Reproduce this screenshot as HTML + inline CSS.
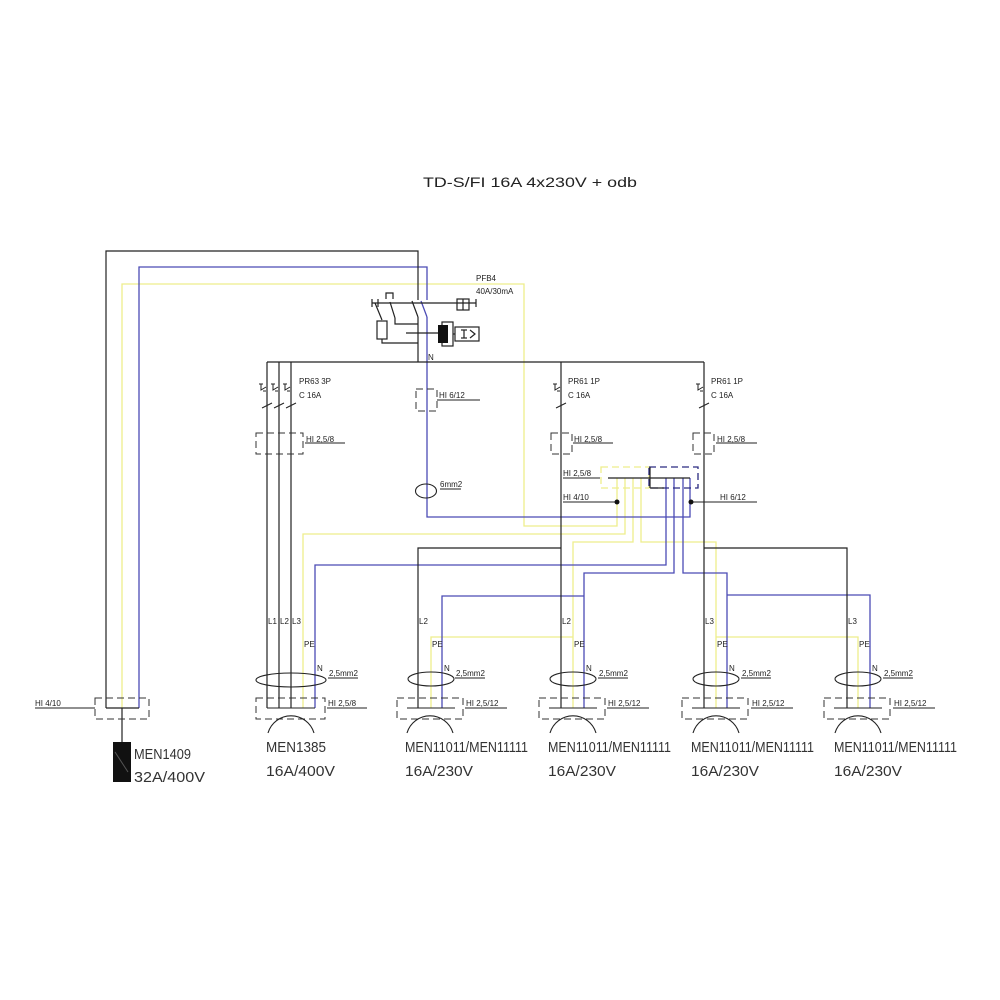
<!DOCTYPE html>
<html><head><meta charset="utf-8"><style>
html,body{margin:0;padding:0;background:#fff;}
svg{display:block;}
text{font-family:"Liberation Sans",sans-serif;fill:#222;}
.s{font-size:8px;}
.b{font-size:14.5px;fill:#333;}
</style></head><body>
<svg width="1000" height="1000" viewBox="0 0 1000 1000" xmlns="http://www.w3.org/2000/svg">
<rect width="1000" height="1000" fill="#fff"/>
<text x="423" y="187" font-size="14" textLength="214" lengthAdjust="spacingAndGlyphs" style="fill:#222">TD-S/FI 16A 4x230V + odb</text>

<g fill="none" stroke-width="1.3">
<!-- yellow PE lines -->
<g stroke="#eeee8c">
<polyline points="122,708 122,284 524,284 524,526 617,526 617,478"/>
<polyline points="625,478 625,534 303,534 303,708"/>
<polyline points="633,478 633,542 573,542 573,708"/>
<polyline points="573,637 431,637 431,708"/>
<polyline points="641,478 641,542 716,542 716,708"/>
<polyline points="716,637 858,637 858,708"/>
<rect x="601" y="467" width="48" height="21" stroke-dasharray="7 4"/>
</g>
<!-- blue N lines -->
<g stroke="#4b4bb5">
<polyline points="139,708 139,267 427,267 427,300"/>
<polyline points="427,317 427,517 690,517 690,478"/>
<polyline points="666,478 666,565 315,565 315,708"/>
<polyline points="674,478 674,573 584,573 584,708"/>
<polyline points="584,596 442,596 442,708"/>
<polyline points="683,478 683,573 727,573 727,708"/>
<polyline points="727,595 870,595 870,708"/>
<line x1="421" y1="301" x2="427" y2="317"/>
<rect x="649" y="467" width="49" height="21" stroke-dasharray="7 4" stroke="#2a2a80"/>
</g>
<!-- black lines -->
<g stroke="#222" stroke-width="1.2">
<polyline points="106,708 106,251 418,251 418,300"/>
<line x1="412" y1="301" x2="418" y2="317"/>
<line x1="418" y1="317" x2="418" y2="362"/>
<line x1="267" y1="362" x2="704" y2="362"/>
<line x1="267" y1="362" x2="267" y2="708"/>
<line x1="279" y1="362" x2="279" y2="708"/>
<line x1="291" y1="362" x2="291" y2="708"/>
<line x1="561" y1="362" x2="561" y2="708"/>
<line x1="704" y1="362" x2="704" y2="708"/>
<polyline points="561,548 418,548 418,708"/>
<polyline points="704,548 847,548 847,708"/>
<line x1="106" y1="708" x2="139" y2="708"/>
<line x1="122" y1="708" x2="122" y2="742"/>
<!-- RCD -->
<line x1="372" y1="303" x2="476" y2="303"/>
<line x1="372" y1="299" x2="372" y2="307"/>
<line x1="378" y1="299" x2="378" y2="307"/>
<line x1="476" y1="299" x2="476" y2="307"/>
<polyline points="386,299 386,293 393,293 393,299"/>
<line x1="375" y1="303" x2="382" y2="320"/>
<line x1="390" y1="302" x2="395" y2="318"/>
<rect x="377" y="321" width="10" height="18"/>
<polyline points="382,339 382,343 418,343"/>
<polyline points="395,318 395,324 418,324"/>
<line x1="406" y1="333" x2="438" y2="333"/>
<rect x="442" y="322" width="11" height="24"/>
<rect x="457" y="299" width="12" height="11"/>
<line x1="463" y1="299" x2="463" y2="310"/>
<rect x="455" y="327" width="24" height="14"/>
<line x1="453" y1="334" x2="455" y2="334"/>
<line x1="464" y1="330" x2="464" y2="338"/>
<line x1="461" y1="330" x2="467" y2="330"/>
<line x1="461" y1="338" x2="467" y2="338"/>
<polyline points="470,330 475,334 470,338"/>
<!-- PE box inner -->
<line x1="608" y1="478" x2="690" y2="478"/>
<line x1="650" y1="467" x2="650" y2="488"/>
<line x1="650" y1="488" x2="664" y2="488"/>
</g>
<rect x="438" y="325" width="10" height="18" fill="#111" stroke="none"/>

<!-- breaker glyphs -->
<g stroke="#222" stroke-width="1">
<path d="M259 384 l4 0 M261 384 l0 6 l5 -3 M263 391 l3 0 M262 408 l10 -5"/>
<path d="M271 384 l4 0 M273 384 l0 6 l5 -3 M275 391 l3 0 M274 408 l10 -5"/>
<path d="M283 384 l4 0 M285 384 l0 6 l5 -3 M287 391 l3 0 M286 408 l10 -5"/>
<path d="M553 384 l4 0 M555 384 l0 6 l5 -3 M557 391 l3 0 M556 408 l10 -5"/>
<path d="M696 384 l4 0 M698 384 l0 6 l5 -3 M700 391 l3 0 M699 408 l10 -5"/>
</g>

<!-- dashed boxes -->
<g stroke="#333" stroke-width="1" stroke-dasharray="7 4">
<rect x="95" y="698" width="54" height="21"/>
<rect x="256" y="433" width="47" height="21"/>
<rect x="416" y="389" width="21" height="22"/>
<rect x="551" y="433" width="21" height="21"/>
<rect x="693" y="433" width="21" height="21"/>
<rect x="256" y="698" width="69" height="21"/>
<rect x="397" y="698" width="66" height="21"/>
<rect x="539" y="698" width="66" height="21"/>
<rect x="682" y="698" width="66" height="21"/>
<rect x="824" y="698" width="66" height="21"/>
</g>

<!-- sockets -->
<g stroke="#222" stroke-width="1.1">
<ellipse cx="426" cy="491" rx="10.5" ry="7"/>
<ellipse cx="291" cy="680" rx="35" ry="7"/>
<ellipse cx="431" cy="679" rx="23" ry="7"/>
<ellipse cx="573" cy="679" rx="23" ry="7"/>
<ellipse cx="716" cy="679" rx="23" ry="7"/>
<ellipse cx="858" cy="679" rx="23" ry="7"/>
<line x1="267" y1="708" x2="315" y2="708"/>
<line x1="407" y1="708" x2="455" y2="708"/>
<line x1="549" y1="708" x2="597" y2="708"/>
<line x1="692" y1="708" x2="740" y2="708"/>
<line x1="834" y1="708" x2="882" y2="708"/>
<path d="M268 733 A24 24 0 0 1 314 733"/>
<path d="M407 733 A24 24 0 0 1 453 733"/>
<path d="M550 733 A24 24 0 0 1 596 733"/>
<path d="M693 733 A24 24 0 0 1 739 733"/>
<path d="M835 733 A24 24 0 0 1 881 733"/>
<!-- underlines -->
<line x1="35" y1="708" x2="95" y2="708"/>
<line x1="305" y1="443" x2="345" y2="443"/>
<line x1="437" y1="400" x2="480" y2="400"/>
<line x1="573" y1="443" x2="613" y2="443"/>
<line x1="716" y1="443" x2="757" y2="443"/>
<line x1="563" y1="478" x2="600" y2="478"/>
<line x1="563" y1="502" x2="617" y2="502"/>
<line x1="691" y1="502" x2="757" y2="502"/>
<line x1="440" y1="489" x2="461" y2="489"/>
<line x1="328" y1="678" x2="358" y2="678"/>
<line x1="455" y1="678" x2="485" y2="678"/>
<line x1="598" y1="678" x2="628" y2="678"/>
<line x1="741" y1="678" x2="771" y2="678"/>
<line x1="883" y1="678" x2="913" y2="678"/>
<line x1="327" y1="708" x2="367" y2="708"/>
<line x1="465" y1="708" x2="507" y2="708"/>
<line x1="607" y1="708" x2="649" y2="708"/>
<line x1="751" y1="708" x2="793" y2="708"/>
<line x1="893" y1="708" x2="935" y2="708"/>
</g>
</g>
<circle cx="617" cy="502" r="2.5" fill="#111"/>
<circle cx="691" cy="502" r="2.5" fill="#111"/>

<!-- MEN1409 block -->
<rect x="113" y="742" width="18" height="40" fill="#111"/>
<line x1="115" y1="752" x2="128" y2="772" stroke="#555" stroke-width="1"/>

<!-- small labels -->
<g class="s">
<text x="476" y="281" class="s">PFB4</text>
<text x="476" y="294" class="s" font-size="7">40A/30mA</text>
<text x="428" y="360" class="s">N</text>
<text x="299" y="384" class="s">PR63 3P</text>
<text x="299" y="398" class="s">C 16A</text>
<text x="568" y="384" class="s">PR61 1P</text>
<text x="568" y="398" class="s">C 16A</text>
<text x="711" y="384" class="s">PR61 1P</text>
<text x="711" y="398" class="s">C 16A</text>
<text x="439" y="398" class="s">HI 6/12</text>
<text x="306" y="442" class="s">HI 2,5/8</text>
<text x="574" y="442" class="s">HI 2,5/8</text>
<text x="717" y="442" class="s">HI 2,5/8</text>
<text x="563" y="476" class="s">HI 2,5/8</text>
<text x="563" y="500" class="s">HI 4/10</text>
<text x="720" y="500" class="s">HI 6/12</text>
<text x="440" y="487" class="s">6mm2</text>
<text x="35" y="706" class="s">HI 4/10</text>
<text x="268" y="624" class="s">L1</text>
<text x="280" y="624" class="s">L2</text>
<text x="292" y="624" class="s">L3</text>
<text x="304" y="647" class="s">PE</text>
<text x="317" y="671" class="s">N</text>
<text x="329" y="676" class="s">2,5mm2</text>
<text x="328" y="706" class="s">HI 2,5/8</text>
<text x="419" y="624" class="s">L2</text>
<text x="432" y="647" class="s">PE</text>
<text x="444" y="671" class="s">N</text>
<text x="456" y="676" class="s">2,5mm2</text>
<text x="466" y="706" class="s">HI 2,5/12</text>
<text x="562" y="624" class="s">L2</text>
<text x="574" y="647" class="s">PE</text>
<text x="586" y="671" class="s">N</text>
<text x="599" y="676" class="s">2,5mm2</text>
<text x="608" y="706" class="s">HI 2,5/12</text>
<text x="705" y="624" class="s">L3</text>
<text x="717" y="647" class="s">PE</text>
<text x="729" y="671" class="s">N</text>
<text x="742" y="676" class="s">2,5mm2</text>
<text x="752" y="706" class="s">HI 2,5/12</text>
<text x="848" y="624" class="s">L3</text>
<text x="859" y="647" class="s">PE</text>
<text x="872" y="671" class="s">N</text>
<text x="884" y="676" class="s">2,5mm2</text>
<text x="894" y="706" class="s">HI 2,5/12</text>
</g>

<!-- big labels -->
<text x="134" y="759" class="b" textLength="57" lengthAdjust="spacingAndGlyphs">MEN1409</text>
<text x="134" y="782" class="b" textLength="71" lengthAdjust="spacingAndGlyphs">32A/400V</text>
<text x="266" y="752" class="b" textLength="60" lengthAdjust="spacingAndGlyphs">MEN1385</text>
<text x="266" y="776" class="b" textLength="69" lengthAdjust="spacingAndGlyphs">16A/400V</text>
<text x="405" y="752" class="b" textLength="123" lengthAdjust="spacingAndGlyphs">MEN11011/MEN11111</text>
<text x="405" y="776" class="b" textLength="68" lengthAdjust="spacingAndGlyphs">16A/230V</text>
<text x="548" y="752" class="b" textLength="123" lengthAdjust="spacingAndGlyphs">MEN11011/MEN11111</text>
<text x="548" y="776" class="b" textLength="68" lengthAdjust="spacingAndGlyphs">16A/230V</text>
<text x="691" y="752" class="b" textLength="123" lengthAdjust="spacingAndGlyphs">MEN11011/MEN11111</text>
<text x="691" y="776" class="b" textLength="68" lengthAdjust="spacingAndGlyphs">16A/230V</text>
<text x="834" y="752" class="b" textLength="123" lengthAdjust="spacingAndGlyphs">MEN11011/MEN11111</text>
<text x="834" y="776" class="b" textLength="68" lengthAdjust="spacingAndGlyphs">16A/230V</text>
</svg>
</body></html>
